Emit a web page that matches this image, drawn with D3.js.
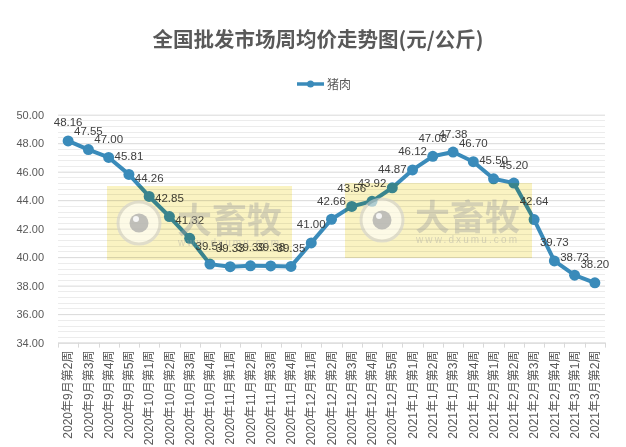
<!DOCTYPE html>
<html><head><meta charset="utf-8">
<script src="https://cdn.jsdelivr.net/npm/d3@7/dist/d3.min.js"></script>
<style>
body{margin:0;background:#fff;}
svg{display:block;}
</style></head>
<body><svg id="c" width="626" height="447"></svg>
<script>
const categories = ["2020年9月第2周","2020年9月第3周","2020年9月第4周","2020年9月第5周","2020年10月第1周","2020年10月第2周","2020年10月第3周","2020年10月第4周","2020年11月第1周","2020年11月第2周","2020年11月第3周","2020年11月第4周","2020年12月第1周","2020年12月第2周","2020年12月第3周","2020年12月第4周","2020年12月第5周","2021年1月第1周","2021年1月第2周","2021年1月第3周","2021年1月第4周","2021年2月第1周","2021年2月第2周","2021年2月第3周","2021年2月第4周","2021年3月第1周","2021年3月第2周"];
const pork = [48.16,47.55,47.00,45.81,44.26,42.85,41.32,39.51,39.33,39.39,39.38,39.35,41.00,42.66,43.56,43.92,44.87,46.12,47.08,47.38,46.70,45.50,45.20,42.64,39.73,38.73,38.20];
const yTicks = [34,36,38,40,42,44,46,48,50];
const seriesName = "猪肉";
const title = "全国批发市场周均价走势图(元/公斤)";

const svg = d3.select("#c");
const CJK = "'Liberation Sans','Noto Sans CJK SC',sans-serif";
const blue = "#3a8bba";
const pLeft = 58, pRight = 605, pTop = 114.7, pBottom = 342.6;

const x = d3.scaleBand().domain(categories).range([pLeft, pRight]);
const y = d3.scaleLinear().domain([34, 50]).range([pBottom, pTop]);
const cx = d => x(d) + x.bandwidth() / 2;

// title
svg.append("text").attr("x", 318).attr("y", 47).attr("text-anchor", "middle")
  .attr("font-family", "'Noto Sans CJK SC',sans-serif").attr("font-weight", "bold")
  .attr("font-size", 20.5).attr("fill", "#595959").text(title);

// legend
const lg = svg.append("g");
lg.append("line").attr("x1", 297).attr("x2", 324).attr("y1", 84).attr("y2", 84)
  .attr("stroke", blue).attr("stroke-width", 3.5);
lg.append("circle").attr("cx", 310.5).attr("cy", 84).attr("r", 3.5).attr("fill", blue);
lg.append("text").attr("x", 327).attr("y", 88.5).attr("font-family", CJK).attr("font-size", 12)
  .attr("fill", "#595959").text(seriesName);

// minor gridlines
const minor = d3.range(34, 50.001, 0.4).filter(v => Math.abs(v / 2 - Math.round(v / 2)) > 0.01);
svg.append("g").selectAll("line").data(minor).join("line")
  .attr("x1", pLeft).attr("x2", pRight).attr("y1", d => Math.round(y(d)) + 0.5).attr("y2", d => Math.round(y(d)) + 0.5)
  .attr("stroke", "#ececec").attr("stroke-width", 1);

// y axis
const yAxis = d3.axisLeft(y).tickValues(yTicks).tickFormat(d3.format(".2f")).tickSize(-(pRight - pLeft)).tickPadding(14);
const yg = svg.append("g").attr("transform", `translate(${pLeft},0)`).call(yAxis);
yg.select(".domain").remove();
yg.selectAll(".tick line").attr("stroke", "#d9d9d9");
yg.selectAll(".tick text").attr("font-family", CJK).attr("font-size", 11).attr("fill", "#595959");

// x axis
const xAxis = d3.axisBottom(x).tickSizeInner(0).tickSizeOuter(0);
const xg = svg.append("g").attr("transform", `translate(0,${pBottom})`).call(xAxis);
xg.select(".domain").attr("stroke", "#d9d9d9");
xg.selectAll(".tick text").attr("font-family", CJK).attr("font-size", 12).attr("fill", "#595959")
  .attr("transform", "rotate(-90)").attr("text-anchor", "end").attr("x", -8).attr("y", 0).attr("dy", "0.35em");
// boundary tick marks
const bounds = categories.map(c => x(c)).concat([pRight]);
svg.append("g").selectAll("line").data(bounds).join("line")
  .attr("x1", d => Math.round(d) + 0.5).attr("x2", d => Math.round(d) + 0.5)
  .attr("y1", pBottom).attr("y2", pBottom + 5).attr("stroke", "#d9d9d9");

// line
const line = d3.line().x((d, i) => cx(categories[i])).y(d => y(d));
svg.append("path").datum(pork).attr("d", line).attr("fill", "none")
  .attr("stroke", blue).attr("stroke-width", 4).attr("stroke-linejoin", "round");
svg.append("g").selectAll("circle").data(pork).join("circle")
  .attr("cx", (d, i) => cx(categories[i])).attr("cy", d => y(d)).attr("r", 5.5).attr("fill", blue);

// data labels
svg.append("g").selectAll("text").data(pork).join("text")
  .attr("x", (d, i) => cx(categories[i])).attr("y", d => y(d) - 14.5)
  .attr("text-anchor", "middle").attr("font-family", CJK).attr("font-size", 11.5).attr("fill", "#404040")
  .text(d => d.toFixed(2));

// watermark overlays (decorative)
function watermark(x0, y0, w, h, lx) {
  const g = svg.append("g");
  g.append("rect").attr("x", x0).attr("y", y0).attr("width", w).attr("height", h)
    .attr("fill", "#faf3c2").style("mix-blend-mode", "multiply");
  g.append("circle").attr("cx", x0 + lx).attr("cy", y0 + 37).attr("r", 21).attr("fill", "#ffffff").attr("opacity", 0.6)
    .attr("stroke", "#d0d0d0").attr("stroke-width", 3);
  g.append("circle").attr("cx", x0 + lx).attr("cy", y0 + 37).attr("r", 9.5).attr("fill", "#a5a5a5").attr("opacity", 0.7);
  g.append("circle").attr("cx", x0 + lx - 3).attr("cy", y0 + 33).attr("r", 3).attr("fill", "#ffffff").attr("opacity", 0.85);
  g.append("text").attr("x", x0 + 70).attr("y", y0 + 47).attr("font-family", "'Noto Sans CJK SC',sans-serif")
    .attr("font-weight", "bold").attr("font-size", 35).attr("fill", "#a0a0a0").attr("opacity", 0.4)
    .attr("textLength", 105).text("大畜牧");
  g.append("text").attr("x", x0 + 71).attr("y", y0 + 60).attr("font-family", "'Liberation Sans',sans-serif")
    .attr("font-size", 10).attr("fill", "#a0a0a0").attr("opacity", 0.4)
    .attr("textLength", 101).text("www.dxumu.com");
}
watermark(107, 186, 185, 74, 32);
watermark(345, 183, 187, 75, 37);
</script></body></html>
